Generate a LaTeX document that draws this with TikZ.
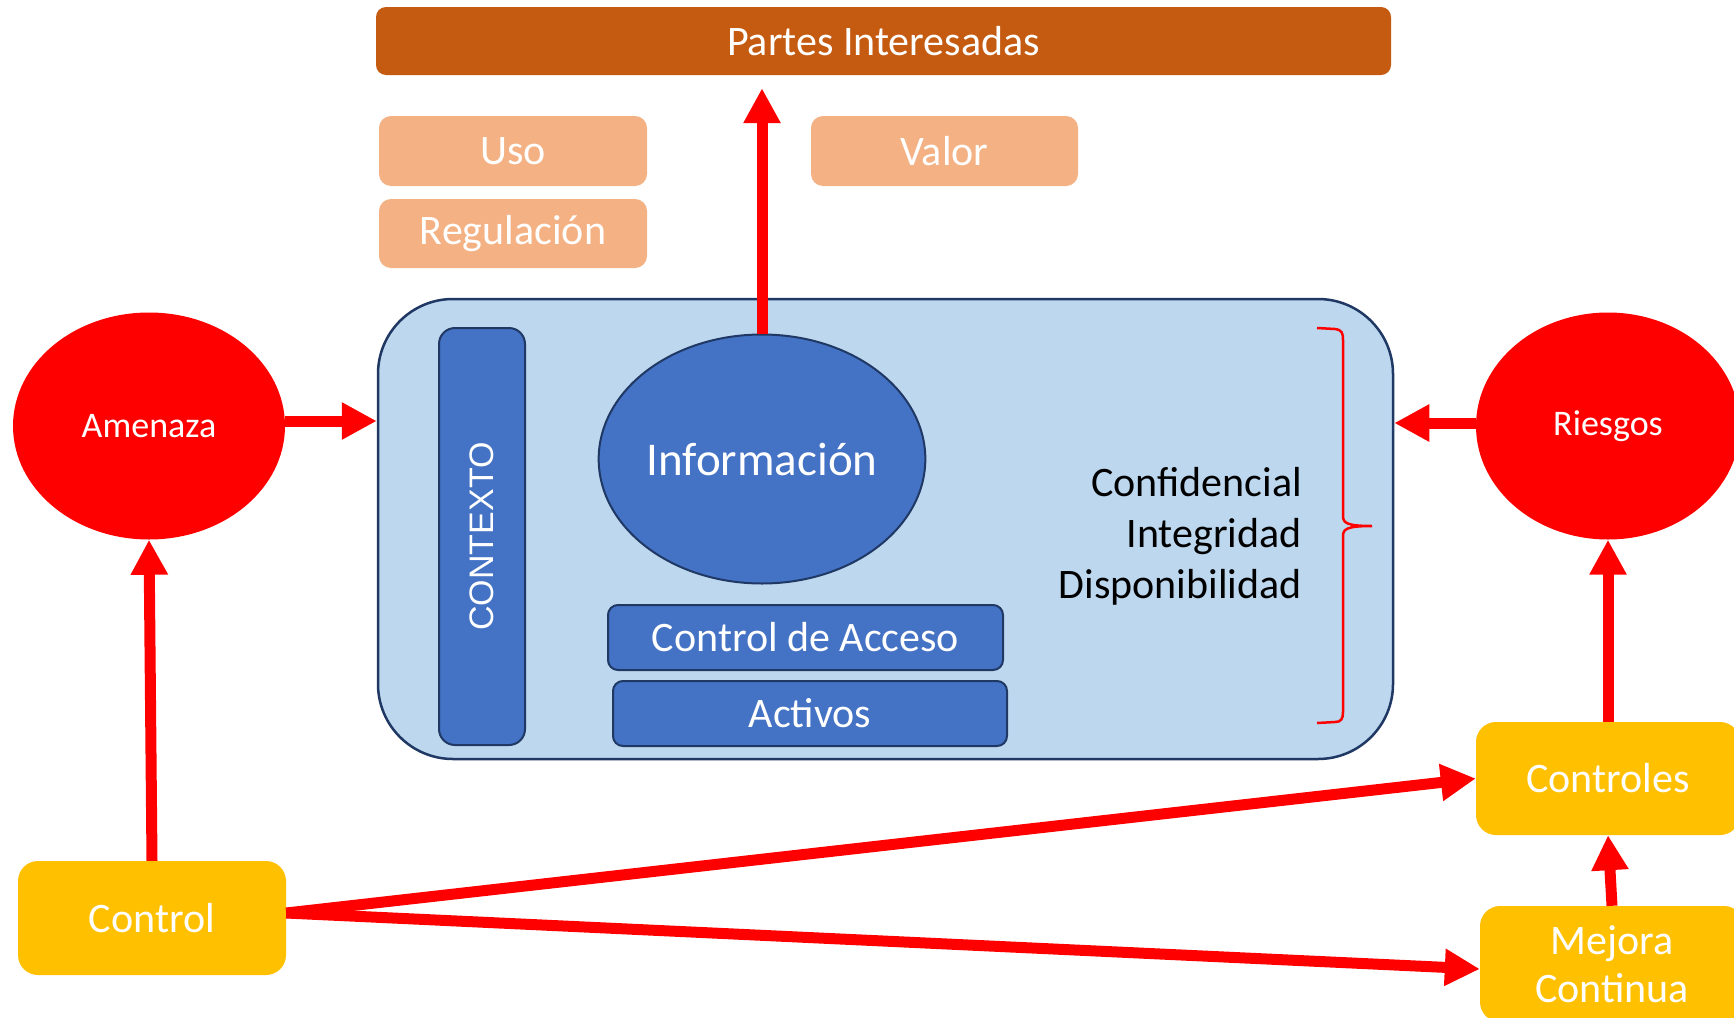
\documentclass[tikz,border=0pt]{standalone}
\usepackage{fontspec}
\setmainfont{Carlito}
\newfontfamily\arialf{Liberation Sans}
\usetikzlibrary{arrows.meta,shapes.geometric,calc}
\definecolor{cPartes}{HTML}{C55A11}
\definecolor{cPeach}{HTML}{F4B183}
\definecolor{cLight}{HTML}{BDD7EE}
\definecolor{cNavy}{HTML}{1F3864}
\definecolor{cBlue}{HTML}{4472C4}
\definecolor{cYellow}{HTML}{FFC000}
\definecolor{cRed}{HTML}{FF0000}
\tikzset{
  box/.style={rectangle, inner sep=0pt, text=white, align=center},
  peach/.style={box, fill=cPeach, rounded corners=12pt, font=\fontsize{42}{50}\selectfont},
  bluebox/.style={box, fill=cBlue, draw=cNavy, line width=2pt, rounded corners=14pt, font=\fontsize{42}{50}\selectfont},
  yellowbox/.style={box, fill=cYellow, rounded corners=20pt, font=\fontsize{42}{48}\selectfont},
  redell/.style={ellipse, inner sep=0pt, fill=cRed, text=white, font=\fontsize{36}{42}\selectfont},
  arr/.style={draw=cRed, line width=11pt, -{Triangle[length=35pt,width=35pt]}},
}
\begin{document}
\begin{tikzpicture}[x=1pt,y=-1pt]
\useasboundingbox (0,0) rectangle (1734,1017);
\fill[white] (0,0) rectangle (1734,1017);

% top
\node[box, fill=cPartes, rounded corners=10pt, minimum width=1015pt, minimum height=68pt, font=\fontsize{42}{50}\selectfont] (partes) at (883.5,41) {Partes Interesadas};
\node[peach, minimum width=268pt, minimum height=70pt] (uso) at (513,151) {Uso};
\node[peach, minimum width=268pt, minimum height=69pt] (regul) at (513,233.5) {Regulación};
\node[peach, minimum width=267pt, minimum height=70pt] (valor) at (944.5,151) {Valor};

% big container
\node[rectangle, fill=cLight, draw=cNavy, line width=2.5pt, rounded corners=75pt, minimum width=1015pt, minimum height=460pt, inner sep=0pt] (big) at (885.5,529) {};
\node[bluebox, minimum width=86pt, minimum height=417pt, rounded corners=16pt] (ctx) at (482,536.5) {};
\node[text=white, rotate=90, font=\arialf\fontsize{34}{40}\selectfont] (ctxt) at (ctx.center) {CONTEXTO};
\node[ellipse, fill=cBlue, draw=cNavy, line width=2pt, minimum width=319pt, minimum height=249pt, inner sep=0pt, text=white, font=\fontsize{47}{56}\selectfont] (info) at (762,459) {Información};
\node[bluebox, minimum width=395pt, minimum height=65pt, rounded corners=10pt] (acceso) at (805.5,637.5) {Control de Acceso};
\node[bluebox, minimum width=394pt, minimum height=65pt, rounded corners=10pt] (activos) at (810,713.5) {Activos};
\node[align=right, anchor=east, inner sep=0pt, font=\fontsize{42}{51}\selectfont, text=black] (cid) at (1302,536) {Confidencial\\Integridad\\Disponibilidad};

% brace
\draw[cRed, line width=2.5pt] (1317,328) -- (1335,329) .. controls (1342,330) and (1343,333) .. (1343,340) -- (1343,516) .. controls (1343,523) and (1347,526) .. (1372,526) .. controls (1347,526) and (1343,529) .. (1343,536) -- (1343,712) .. controls (1343,719) and (1341,722) .. (1335,722) -- (1317,723);

% red ellipses
\node[redell, minimum width=272pt, minimum height=227pt] (amenaza) at (149,426) {Amenaza};
\node[redell, minimum width=264pt, minimum height=227pt] (riesgos) at (1608,426) {Riesgos};

% yellow boxes
\node[yellowbox, minimum width=268pt, minimum height=114pt] (control) at (152,918) {Control};
\node[yellowbox, minimum width=264pt, minimum height=113pt] (controles) at (1608,778.5) {Controles};
\node[yellowbox, minimum width=264pt, minimum height=116pt] (mejora) at (1612,964) {Mejora\\Continua};

% arrows
\coordinate (p1) at ([yshift=-13pt]info.north |- partes.south);
\draw[arr] (info.north) -- (p1);
\coordinate (a1) at ([yshift=5pt]amenaza.east);
\draw[arr] (a1) -- (a1 -| big.west);
\coordinate (r1) at ([yshift=3pt]riesgos.west);
\draw[arr] (r1) -- (r1 -| big.east);
\draw[arr] (control.north) -- (amenaza.south);
\coordinate (c1) at ([yshift=5pt]control.east);
\draw[arr] (c1) -- (controles.west);
\draw[arr] (c1) -- ([yshift=-5pt]mejora.west);
\draw[arr] (mejora.north) -- (controles.south);
\draw[arr] (controles.north) -- (riesgos.south);
\end{tikzpicture}
\end{document}
